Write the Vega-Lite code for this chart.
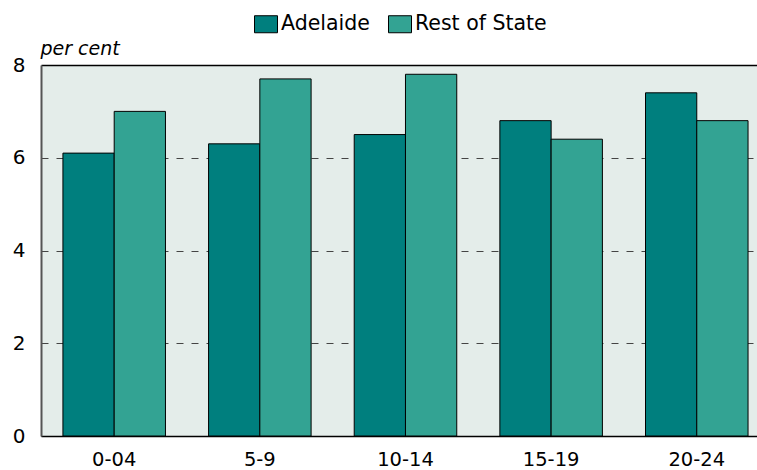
{
  "$schema": "https://vega.github.io/schema/vega-lite/v6.json",
  "width": 716,
  "height": 371,
  "autosize": "none",
  "padding": {"left": 41, "top": 65, "right": 0, "bottom": 34},
  "background": "white",
  "data": {
    "values": [
      {"age": "0-04", "region": "Adelaide", "value": 6.1},
      {"age": "0-04", "region": "Rest of State", "value": 7.0},
      {"age": "5-9", "region": "Adelaide", "value": 6.3},
      {"age": "5-9", "region": "Rest of State", "value": 7.7},
      {"age": "10-14", "region": "Adelaide", "value": 6.5},
      {"age": "10-14", "region": "Rest of State", "value": 7.8},
      {"age": "15-19", "region": "Adelaide", "value": 6.8},
      {"age": "15-19", "region": "Rest of State", "value": 6.4},
      {"age": "20-24", "region": "Adelaide", "value": 7.4},
      {"age": "20-24", "region": "Rest of State", "value": 6.8}
    ]
  },
  "mark": {"type": "bar", "stroke": "black", "strokeWidth": 1},
  "encoding": {
    "x": {
      "field": "age",
      "type": "nominal",
      "sort": ["0-04", "5-9", "10-14", "15-19", "20-24"],
      "scale": {"paddingInner": 0.296, "paddingOuter": 0.106, "align": 0.71},
      "axis": {
        "title": null,
        "labelAngle": 0,
        "labelFontSize": 19.5,
        "labelColor": "black",
        "labelPadding": 14,
        "ticks": false,
        "domainColor": "black",
        "domainWidth": 1.5,
        "grid": false
      }
    },
    "xOffset": {
      "field": "region",
      "sort": ["Adelaide", "Rest of State"],
      "scale": {"paddingInner": 0, "paddingOuter": 0}
    },
    "y": {
      "field": "value",
      "type": "quantitative",
      "scale": {"domain": [0, 8], "nice": false},
      "axis": {
        "values": [0, 2, 4, 6, 8],
        "title": "per cent",
        "titleAngle": 0,
        "titleX": -1,
        "titleY": -11,
        "titleAlign": "left",
        "titleBaseline": "alphabetic",
        "titleFontStyle": "italic",
        "titleFontWeight": "normal",
        "titleFontSize": 19,
        "titleColor": "black",
        "labelFontSize": 20,
        "labelColor": "black",
        "labelPadding": 16,
        "ticks": false,
        "domainColor": "#555555",
        "domainWidth": 2,
        "grid": true,
        "gridDash": {"condition": {"test": "datum.value == 8 || datum.value == 0", "value": []}, "value": [7, 8]},
        "gridColor": {"condition": {"test": "datum.value == 8", "value": "black"}, "value": "#444444"},
        "gridWidth": {"condition": {"test": "datum.value == 8", "value": 1.5}, "value": 1}
      }
    },
    "color": {
      "field": "region",
      "type": "nominal",
      "sort": ["Adelaide", "Rest of State"],
      "scale": {"domain": ["Adelaide", "Rest of State"], "range": ["#007f7e", "#33a393"]},
      "legend": {
        "title": null,
        "orient": "none",
        "direction": "horizontal",
        "legendX": 213,
        "legendY": -53,
        "symbolType": "M-1,-0.74L1,-0.74L1,0.74L-1,0.74Z",
        "symbolSize": 529,
        "symbolStrokeColor": "black",
        "symbolStrokeWidth": 1,
        "symbolOpacity": 1,
        "labelFontSize": 20.5,
        "labelColor": "black",
        "labelOffset": 3,
        "columnPadding": 16
      }
    }
  },
  "config": {
    "font": "DejaVu Sans",
    "view": {"fill": "#e4edea", "stroke": null}
  }
}
